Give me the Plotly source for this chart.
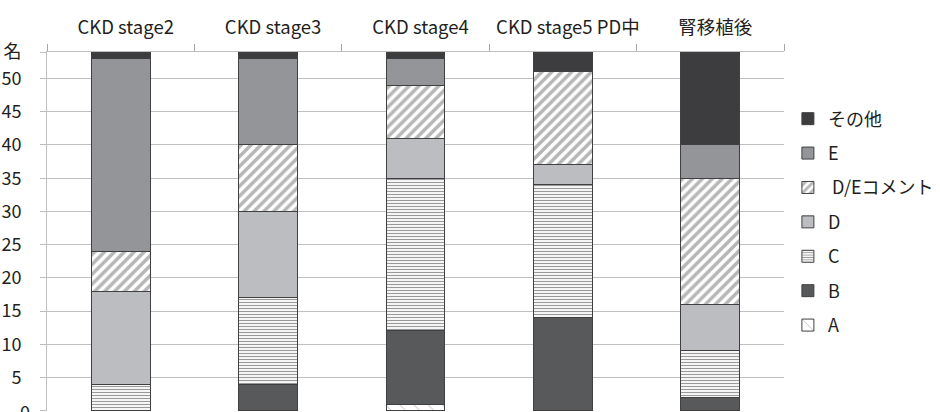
import plotly.graph_objects as go

categories = ["CKD stage2", "CKD stage3", "CKD stage4", "CKD stage5 PD中", "腎移植後"]
A = [0, 0, 1, 0, 0]
B = [0, 4, 11, 14, 2]
C = [4, 13, 23, 20, 7]
D = [14, 13, 6, 3, 7]
DE = [6, 10, 8, 14, 19]
E = [29, 13, 4, 0, 5]
other = [1, 1, 1, 3, 14]

ytick_vals = [0, 5, 10, 15, 20, 25, 30, 35, 40, 45, 50, 54]
ytick_text = ["0", "5", "10", "15", "20", "25", "30", "35", "40", "45", "50", "名"]

FONT = "Noto Sans CJK JP"
OUT = "#404040"

series = [
    ("A", A, dict(color="white", pattern=dict(shape="\\", fgcolor="#555555", bgcolor="white", size=10, solidity=0.08))),
    ("B", B, dict(color="#58595b")),
    ("C", C, dict(color="white", pattern=dict(shape="-", fgcolor="#333333", bgcolor="white", size=3, solidity=0.4))),
    ("D", D, dict(color="#bcbdc0")),
    (" D/Eコメント", DE, dict(color="white", pattern=dict(shape="/", fgcolor="#6d6e70", bgcolor="white", size=7, solidity=0.5))),
    ("E", E, dict(color="#939598")),
    ("その他", other, dict(color="#3d3d3f")),
]

fig = go.Figure()
n = len(series)
for i, (name, vals, mk) in enumerate(series):
    mk = dict(mk)
    mk["line"] = dict(color=OUT, width=1)
    fig.add_trace(go.Bar(x=categories, y=vals, name=name, marker=mk,
                         legendgroup=f"g{i}", legendrank=100 + (n - i)))

# the bottom tick label ("0") sits on the figure edge; draw it as an annotation
fig.add_annotation(x=0, xref="paper", y=ytick_vals[0], yref="y", text=ytick_text[0],
                   showarrow=False, xanchor="right", yanchor="middle", xshift=-15,
                   font=dict(family=FONT, size=18, color="#231f20"))

fig.update_layout(
    barmode="stack",
    bargap=0.6,
    width=940, height=412,
    margin=dict(l=47, r=156, t=52, b=1),
    plot_bgcolor="white", paper_bgcolor="white",
    font=dict(family=FONT, size=18, color="#231f20"),
    legend=dict(x=1.0053, xanchor="left", y=0.865, yanchor="top",
                traceorder="grouped", tracegroupgap=8,
                font=dict(family=FONT, size=18, color="#231f20")),
    xaxis=dict(side="top", tickson="boundaries", ticks="outside", ticklen=7,
               tickcolor="#a6a6a6", showline=True, linecolor="#bfbfbf", linewidth=1,
               showgrid=False, tickfont=dict(size=18.5), automargin=False,
               tickangle=0, ticklabelstandoff=10, ticklabelshift=5),
    yaxis=dict(range=[-0.05, 54], tickvals=ytick_vals, ticktext=ytick_text,
               showgrid=True, gridcolor="#c0c0c0", gridwidth=1,
               showline=True, linecolor="#bfbfbf", linewidth=1,
               zeroline=False, ticks="outside", ticklen=6, tickcolor="#bfbfbf",
               tickfont=dict(size=18), automargin=False, ticklabelstandoff=15),
)

fig.write_html("out.html", config={"displayModeBar": False},
               post_script="document.body.style.margin='0';")
